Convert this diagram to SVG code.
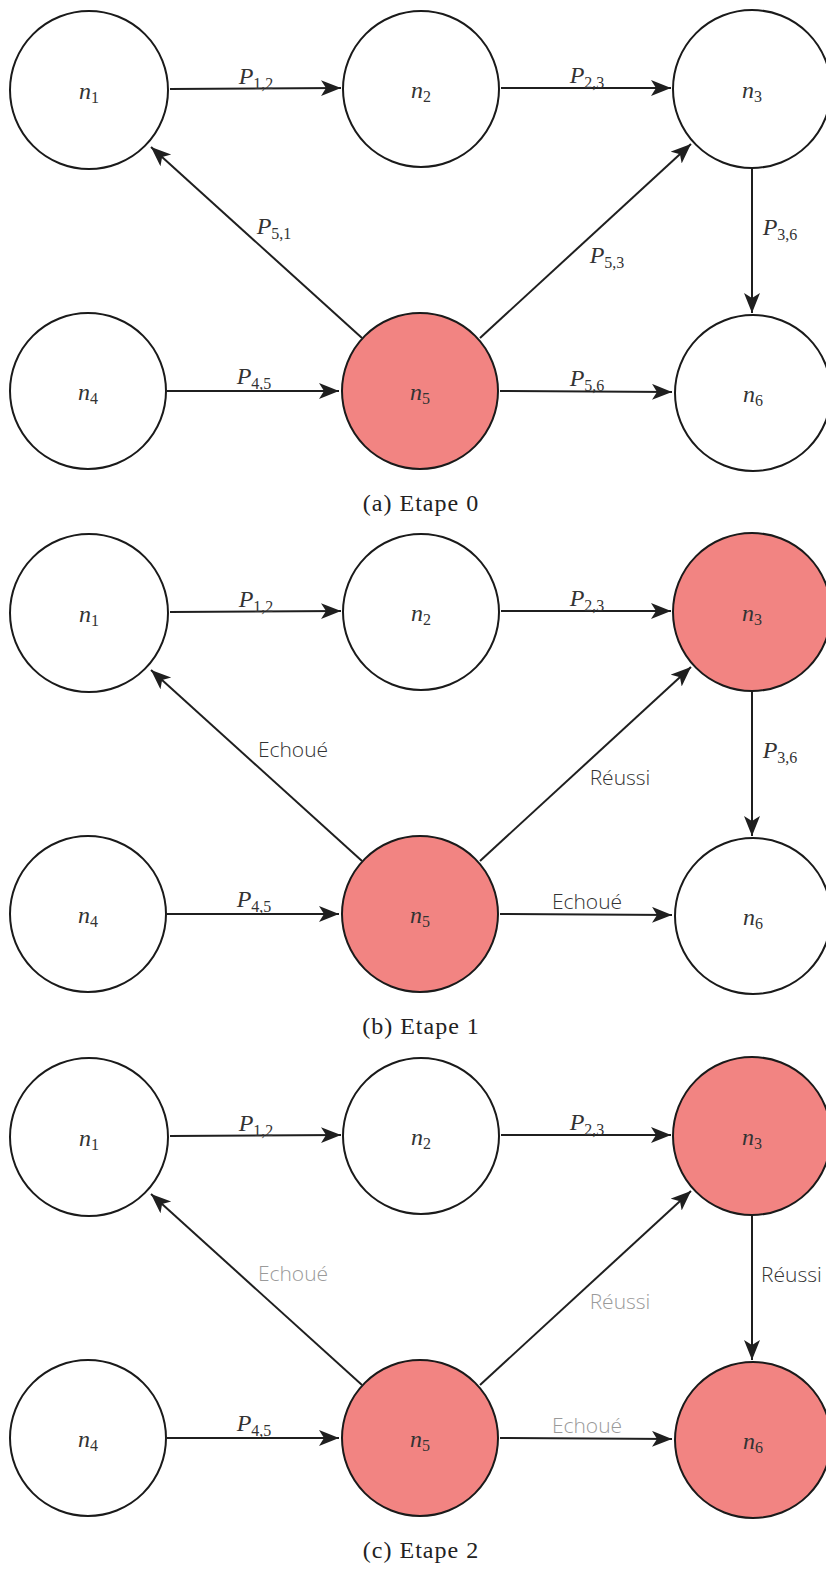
<svg xmlns="http://www.w3.org/2000/svg" width="826" height="1574" viewBox="0 0 826 1574">
<style>
.nd{fill:#fff;stroke:#1a1a1a;stroke-width:2}
.hot{fill:#f28482}
.ed{stroke:#1f1f1f;stroke-width:2;fill:none;marker-end:url(#ah)}
.m{font-family:"Liberation Serif",serif;font-style:italic;font-size:24px;fill:#333;text-anchor:middle}
.s{font-style:normal;font-size:16px}
.t{font-family:"Open Sans","Liberation Sans",sans-serif;font-weight:300;font-size:21px;fill:#333;text-anchor:middle}
.g{fill:#9a9a9a}
.cap{font-family:"Liberation Serif",serif;font-size:24px;letter-spacing:1px;fill:#222;text-anchor:middle}
</style>
<defs>
<marker id="ah" markerUnits="userSpaceOnUse" markerWidth="22" markerHeight="18" refX="20" refY="8" orient="auto">
<path d="M0,0 L20,8 L0,16 L5,8 z" fill="#1f1f1f"/>
</marker>
</defs>

<!-- Panel (a) -->
<g id="panel-a">
<g id="a-edges">
<line class="ed" x1="170" y1="89" x2="341" y2="88"/>
<line class="ed" x1="501" y1="88" x2="671" y2="88"/>
<line class="ed" x1="362" y1="338" x2="151" y2="147"/>
<line class="ed" x1="480" y1="338" x2="691" y2="144"/>
<line class="ed" x1="752" y1="169" x2="752" y2="313"/>
<line class="ed" x1="167" y1="391" x2="339" y2="391"/>
<line class="ed" x1="500" y1="391" x2="672" y2="392"/>
<text class="m" x="256" y="84">P<tspan class="s" dy="5">1,2</tspan></text>
<text class="m" x="587" y="83">P<tspan class="s" dy="5">2,3</tspan></text>
<text class="m" x="274" y="234">P<tspan class="s" dy="5">5,1</tspan></text>
<text class="m" x="607" y="263">P<tspan class="s" dy="5">5,3</tspan></text>
<text class="m" x="780" y="235">P<tspan class="s" dy="5">3,6</tspan></text>
<text class="m" x="254" y="384">P<tspan class="s" dy="5">4,5</tspan></text>
<text class="m" x="587" y="386">P<tspan class="s" dy="5">5,6</tspan></text>
</g>
<g id="a-n1"><circle class="nd" cx="89" cy="90" r="79"/><text class="m" x="89" y="99">n<tspan class="s" dy="4">1</tspan></text></g>
<g id="a-n2"><circle class="nd" cx="421" cy="89" r="78"/><text class="m" x="421" y="98">n<tspan class="s" dy="4">2</tspan></text></g>
<g id="a-n3"><circle class="nd" cx="752" cy="89" r="79"/><text class="m" x="752" y="98">n<tspan class="s" dy="4">3</tspan></text></g>
<g id="a-n4"><circle class="nd" cx="88" cy="391" r="78"/><text class="m" x="88" y="400">n<tspan class="s" dy="4">4</tspan></text></g>
<g id="a-n5"><circle class="nd hot" cx="420" cy="391" r="78"/><text class="m" x="420" y="400">n<tspan class="s" dy="4">5</tspan></text></g>
<g id="a-n6"><circle class="nd" cx="753" cy="393" r="78"/><text class="m" x="753" y="402">n<tspan class="s" dy="4">6</tspan></text></g>
<text class="cap" x="421" y="511">(a) Etape 0</text>
</g>

<!-- Panel (b) -->
<g id="panel-b" transform="translate(0,523)">
<g id="b-edges">
<line class="ed" x1="170" y1="89" x2="341" y2="88"/>
<line class="ed" x1="501" y1="88" x2="671" y2="88"/>
<line class="ed" x1="362" y1="338" x2="151" y2="147"/>
<line class="ed" x1="480" y1="338" x2="691" y2="144"/>
<line class="ed" x1="752" y1="169" x2="752" y2="313"/>
<line class="ed" x1="167" y1="391" x2="339" y2="391"/>
<line class="ed" x1="500" y1="391" x2="672" y2="392"/>
<text class="m" x="256" y="84">P<tspan class="s" dy="5">1,2</tspan></text>
<text class="m" x="587" y="83">P<tspan class="s" dy="5">2,3</tspan></text>
<text class="t" x="293" y="234">Echoué</text>
<text class="t" x="620" y="262">Réussi</text>
<text class="m" x="780" y="235">P<tspan class="s" dy="5">3,6</tspan></text>
<text class="m" x="254" y="384">P<tspan class="s" dy="5">4,5</tspan></text>
<text class="t" x="587" y="386">Echoué</text>
</g>
<g id="b-n1"><circle class="nd" cx="89" cy="90" r="79"/><text class="m" x="89" y="99">n<tspan class="s" dy="4">1</tspan></text></g>
<g id="b-n2"><circle class="nd" cx="421" cy="89" r="78"/><text class="m" x="421" y="98">n<tspan class="s" dy="4">2</tspan></text></g>
<g id="b-n3"><circle class="nd hot" cx="752" cy="89" r="79"/><text class="m" x="752" y="98">n<tspan class="s" dy="4">3</tspan></text></g>
<g id="b-n4"><circle class="nd" cx="88" cy="391" r="78"/><text class="m" x="88" y="400">n<tspan class="s" dy="4">4</tspan></text></g>
<g id="b-n5"><circle class="nd hot" cx="420" cy="391" r="78"/><text class="m" x="420" y="400">n<tspan class="s" dy="4">5</tspan></text></g>
<g id="b-n6"><circle class="nd" cx="753" cy="393" r="78"/><text class="m" x="753" y="402">n<tspan class="s" dy="4">6</tspan></text></g>
<text class="cap" x="421" y="511">(b) Etape 1</text>
</g>

<!-- Panel (c) -->
<g id="panel-c" transform="translate(0,1047)">
<g id="c-edges">
<line class="ed" x1="170" y1="89" x2="341" y2="88"/>
<line class="ed" x1="501" y1="88" x2="671" y2="88"/>
<line class="ed" x1="362" y1="338" x2="151" y2="147"/>
<line class="ed" x1="480" y1="338" x2="691" y2="144"/>
<line class="ed" x1="752" y1="169" x2="752" y2="313"/>
<line class="ed" x1="167" y1="391" x2="339" y2="391"/>
<line class="ed" x1="500" y1="391" x2="672" y2="392"/>
<text class="m" x="256" y="84">P<tspan class="s" dy="5">1,2</tspan></text>
<text class="m" x="587" y="83">P<tspan class="s" dy="5">2,3</tspan></text>
<text class="t g" x="293" y="234">Echoué</text>
<text class="t g" x="620" y="262">Réussi</text>
<text class="t" x="761" y="235" style="text-anchor:start">Réussi</text>
<text class="m" x="254" y="384">P<tspan class="s" dy="5">4,5</tspan></text>
<text class="t g" x="587" y="386">Echoué</text>
</g>
<g id="c-n1"><circle class="nd" cx="89" cy="90" r="79"/><text class="m" x="89" y="99">n<tspan class="s" dy="4">1</tspan></text></g>
<g id="c-n2"><circle class="nd" cx="421" cy="89" r="78"/><text class="m" x="421" y="98">n<tspan class="s" dy="4">2</tspan></text></g>
<g id="c-n3"><circle class="nd hot" cx="752" cy="89" r="79"/><text class="m" x="752" y="98">n<tspan class="s" dy="4">3</tspan></text></g>
<g id="c-n4"><circle class="nd" cx="88" cy="391" r="78"/><text class="m" x="88" y="400">n<tspan class="s" dy="4">4</tspan></text></g>
<g id="c-n5"><circle class="nd hot" cx="420" cy="391" r="78"/><text class="m" x="420" y="400">n<tspan class="s" dy="4">5</tspan></text></g>
<g id="c-n6"><circle class="nd hot" cx="753" cy="393" r="78"/><text class="m" x="753" y="402">n<tspan class="s" dy="4">6</tspan></text></g>
<text class="cap" x="421" y="511">(c) Etape 2</text>
</g>
</svg>
